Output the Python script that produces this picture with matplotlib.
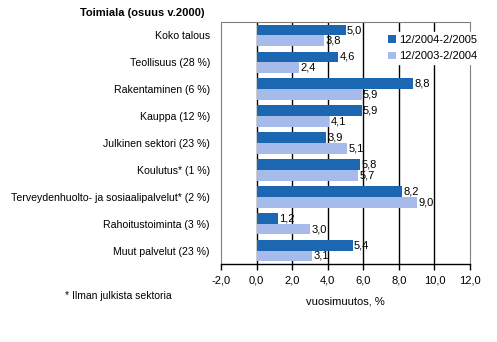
import matplotlib.pyplot as plt
import numpy as np

plt.rcParams['font.family'] = ['Liberation Sans', 'DejaVu Sans']

categories = ['Koko talous', 'Teollisuus (28 %)', 'Rakentaminen (6 %)', 'Kauppa (12 %)',
              'Julkinen sektori (23 %)', 'Koulutus* (1 %)',
              'Terveydenhuolto- ja sosiaalipalvelut* (2 %)', 'Rahoitustoiminta (3 %)',
              'Muut palvelut (23 %)']
s2005 = [5.0, 4.6, 8.8, 5.9, 3.9, 5.8, 8.2, 1.2, 5.4]
s2004 = [3.8, 2.4, 5.9, 4.1, 5.1, 5.7, 9.0, 3.0, 3.1]
labels = ['12/2004-2/2005', '12/2003-2/2004']
xticks = np.arange(-2, 12.1, 2)

c_dark = '#1b67b2'
c_light = '#a6bbea'

fig = plt.figure(figsize=(4.97, 3.42), dpi=100)
ax = fig.add_axes([221/497, 1-264/342, 249/497, 242/342])

y = np.arange(len(categories))
h = 0.4
b1 = ax.barh(y - h/2, s2005, height=h, color=c_dark, label=labels[0], zorder=3)
b2 = ax.barh(y + h/2, s2004, height=h, color=c_light, label=labels[1], zorder=3)

# value labels at bar ends, decimal comma
for bars, vals in ((b1, s2005), (b2, s2004)):
    for b, v in zip(bars, vals):
        ax.text(v + 0.08, b.get_y() + b.get_height()/2, f'{v:.1f}'.replace('.', ','),
                va='center', ha='left', fontsize=8, zorder=4)

ax.set_xlim(-2, 12)
ax.set_ylim(len(categories) - 0.5, -0.5)
ax.set_xticks(xticks)
ax.set_xticklabels([f'{t:.1f}'.replace('.', ',') for t in xticks], fontsize=8)
ax.set_yticks(y)
ax.set_yticklabels(categories, fontsize=7.6)
ax.tick_params(axis='y', length=0, pad=8)
ax.tick_params(axis='x', direction='out', length=4, width=1, color='black', pad=4)

for t in xticks[1:-1]:
    ax.axvline(t, color='black', lw=1, zorder=1)
for s in ['top', 'right', 'left']:
    ax.spines[s].set_color('#808080')
ax.spines['bottom'].set_color('black')
ax.spines['bottom'].set_linewidth(1)

ax.set_xlabel('vuosimuutos, %', fontsize=8, labelpad=8)

leg = ax.legend(loc='upper left', bbox_to_anchor=(0.64, 0.98), frameon=True,
                fontsize=8, handlelength=0.7, handleheight=0.7, handletextpad=0.3,
                borderpad=0.2, labelspacing=0.6, edgecolor='white', fancybox=False)
leg.get_frame().set_facecolor('white')
leg.get_frame().set_alpha(1)
leg.set_zorder(5)

fig.text(80/497, 1-13/342, 'Toimiala (osuus v.2000)', fontsize=8, fontweight='bold',
         ha='left', va='center')
fig.text(65/497, 1-296/342, '* Ilman julkista sektoria', fontsize=7.5, ha='left', va='center')

fig.savefig('out.png', dpi=100)
